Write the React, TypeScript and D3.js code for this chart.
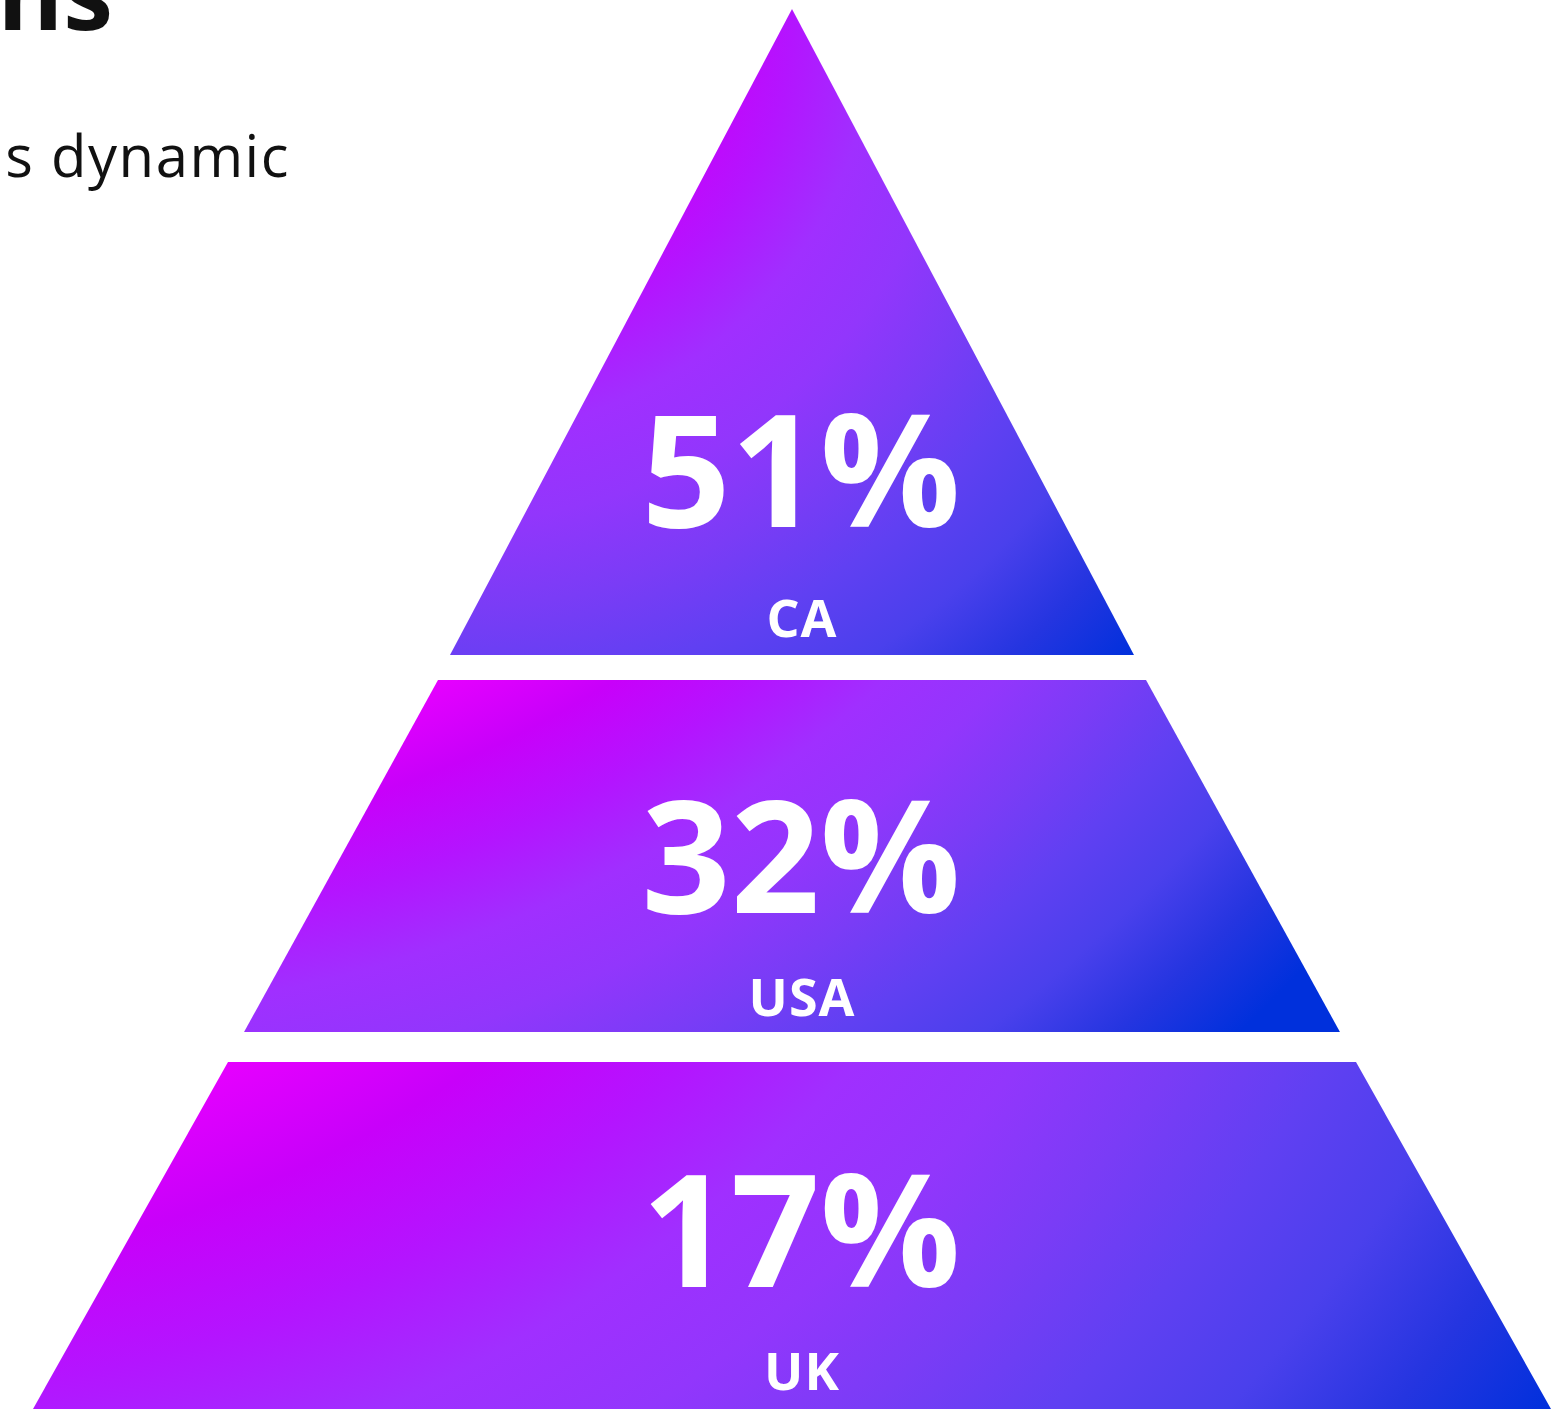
import React from "react";
import * as d3 from "d3";

// ---- data ----
const categories = ["CA", "USA", "UK"];
const values = [51, 32, 17];
const titleText = "Regions";
const subtitleText = "it's dynamic";

// ---- layout (fractions of pyramid height / half base width) ----
const segTop = [0, 0.4793, 0.7521];
const segBottom = [0.4614, 0.7307, 1.0];
const halfTop = [0, 0.4658, 0.7421];
const halfBottom = [0.45, 0.721, 0.9987];
const valueOffset = [128, 119, 122];
const labelOffset = [18, 16, 19];

// ---- gradient style per segment (radial, px relative to segment box top-left) ----
const gradCenter: [number, number][] = [
  [0, 0],
  [-205, -907],
  [-205, -907],
];
const gradInner = [170, 991, 991];
const gradOuter = [941, 1740, 2132];
const gradColors = [
  "#e600ff",
  "#c800fa",
  "#b414ff",
  "#a02fff",
  "#9236fc",
  "#7a3cf6",
  "#6040f2",
  "#4a40ec",
  "#2535e0",
  "#0030dc",
];

const W = 1557;
const H = 1409;
const cx = 792;
const apexY = 9;
const baseY = 1409;
const baseHalf = 760;

export default function App() {
  const y = d3.scaleLinear().domain([0, 1]).range([apexY, baseY]);
  const hw = d3.scaleLinear().domain([0, 1]).range([0, baseHalf]);
  const fontFam = "'Open Sans', 'Noto Sans', sans-serif";

  const segs = categories.map((c, i) => {
    const t = y(segTop[i]);
    const b = y(segBottom[i]);
    const ht = hw(halfTop[i]);
    const hb = hw(halfBottom[i]);
    const pts: [number, number][] =
      ht === 0
        ? [
            [cx, t],
            [cx + hb, b],
            [cx - hb, b],
          ]
        : [
            [cx - ht, t],
            [cx + ht, t],
            [cx + hb, b],
            [cx - hb, b],
          ];
    const line = d3.line();
    const left = cx - hb;
    const gcx = left + gradCenter[i][0];
    const gcy = t + gradCenter[i][1];
    const r = gradOuter[i];
    const fr = gradInner[i];
    const stopScale = d3
      .scaleLinear()
      .domain([0, gradColors.length - 1])
      .range([fr / r, 1]);
    return { c, v: values[i], t, b, d: line(pts)! + "Z", i, gcx, gcy, r, stopScale };
  });

  return (
    <svg
      width={W}
      height={H}
      style={{ position: "absolute", left: 0, top: 0, background: "#fff" }}
    >
      <defs>
        {segs.map((s) => (
          <radialGradient
            key={s.c}
            id={`g${s.i}`}
            cx={s.gcx}
            cy={s.gcy}
            r={s.r}
            fx={s.gcx}
            fy={s.gcy}
            gradientUnits="userSpaceOnUse"
          >
            <stop offset={0} stopColor={gradColors[0]} />
            {gradColors.map((col, k) => (
              <stop key={k} offset={s.stopScale(k)} stopColor={col} />
            ))}
          </radialGradient>
        ))}
      </defs>
      <text
        x={113}
        y={30}
        textAnchor="end"
        fontFamily={fontFam}
        fontWeight={700}
        fontSize={100}
        fill="#111"
      >
        {titleText}
      </text>
      <text
        x={290}
        y={177}
        textAnchor="end"
        fontFamily={fontFam}
        fontWeight={400}
        fontSize={58}
        letterSpacing={1.5}
        fill="#111"
      >
        {subtitleText}
      </text>
      {segs.map((s) => (
        <g key={s.c}>
          <path d={s.d} fill={`url(#g${s.i})`} />
          <text
            x={cx + 9}
            y={s.b - valueOffset[s.i]}
            textAnchor="middle"
            fontFamily={fontFam}
            fontWeight={700}
            fontSize={156}
            fill="#fff"
          >
            {`${s.v}%`}
          </text>
          <text
            x={cx + 10}
            y={s.b - labelOffset[s.i]}
            textAnchor="middle"
            fontFamily={fontFam}
            fontWeight={700}
            fontSize={52}
            letterSpacing={1}
            fill="#fff"
          >
            {s.c}
          </text>
        </g>
      ))}
    </svg>
  );
}
